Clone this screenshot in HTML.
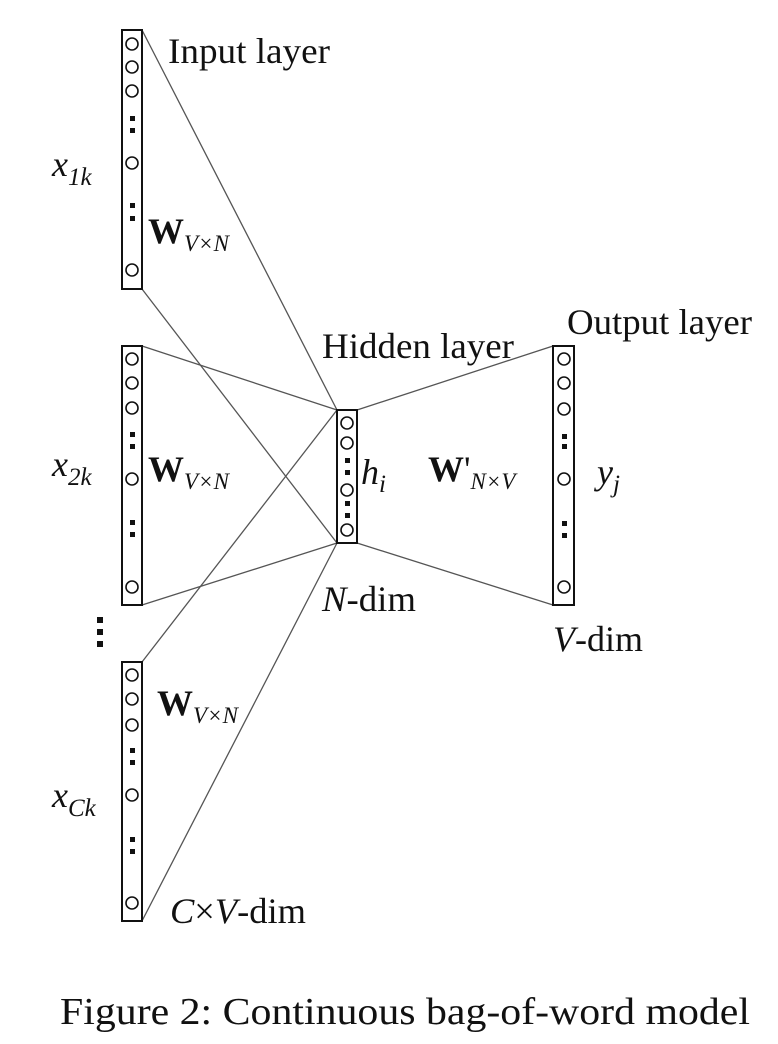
<!DOCTYPE html>
<html><head><meta charset="utf-8"><style>
html,body{margin:0;padding:0;background:#fff}
svg{display:block}
text{font-family:"Liberation Serif",serif;fill:#111}
</style></head><body>
<svg width="778" height="1044" viewBox="0 0 778 1044" xmlns="http://www.w3.org/2000/svg">
<g stroke="#555" stroke-width="1.3" fill="none">
<line x1="142" y1="30" x2="337" y2="410"/>
<line x1="142" y1="289" x2="337" y2="543"/>
<line x1="142" y1="346" x2="337" y2="410"/>
<line x1="142" y1="605" x2="337" y2="543"/>
<line x1="142" y1="662" x2="337" y2="410"/>
<line x1="142" y1="921" x2="337" y2="543"/>
<line x1="357" y1="410" x2="553" y2="346"/>
<line x1="357" y1="543" x2="553" y2="605"/>
</g>
<g stroke="#111" stroke-width="2" fill="#fff">
<rect x="122" y="30" width="20" height="259"/>
<rect x="122" y="346" width="20" height="259"/>
<rect x="122" y="662" width="20" height="259"/>
<rect x="337" y="410" width="20" height="133"/>
<rect x="553" y="346" width="21" height="259"/>
</g>
<g stroke="#111" stroke-width="1.6" fill="none">
<circle cx="132" cy="44" r="6"/><circle cx="132" cy="67" r="6"/><circle cx="132" cy="91" r="6"/><circle cx="132" cy="163" r="6"/><circle cx="132" cy="270" r="6"/>
<circle cx="132" cy="359" r="6"/><circle cx="132" cy="383" r="6"/><circle cx="132" cy="408" r="6"/><circle cx="132" cy="479" r="6"/><circle cx="132" cy="587" r="6"/>
<circle cx="132" cy="675" r="6"/><circle cx="132" cy="699" r="6"/><circle cx="132" cy="725" r="6"/><circle cx="132" cy="795" r="6"/><circle cx="132" cy="903" r="6"/>
<circle cx="347" cy="423" r="6"/><circle cx="347" cy="443" r="6"/><circle cx="347" cy="490" r="6"/><circle cx="347" cy="530" r="6"/>
<circle cx="564" cy="359" r="6"/><circle cx="564" cy="383" r="6"/><circle cx="564" cy="409" r="6"/><circle cx="564" cy="479" r="6"/><circle cx="564" cy="587" r="6"/>
</g>
<g fill="#111">
<rect x="130" y="116" width="5" height="5"/><rect x="130" y="128" width="5" height="5"/>
<rect x="130" y="203" width="5" height="5"/><rect x="130" y="216" width="5" height="5"/>
<rect x="130" y="432" width="5" height="5"/><rect x="130" y="444" width="5" height="5"/>
<rect x="130" y="520" width="5" height="5"/><rect x="130" y="532" width="5" height="5"/>
<rect x="130" y="748" width="5" height="5"/><rect x="130" y="760" width="5" height="5"/>
<rect x="130" y="837" width="5" height="5"/><rect x="130" y="849" width="5" height="5"/>
<rect x="345" y="458" width="5" height="5"/><rect x="345" y="470" width="5" height="5"/>
<rect x="345" y="501" width="5" height="5"/><rect x="345" y="513" width="5" height="5"/>
<rect x="562" y="434" width="5" height="5"/><rect x="562" y="444" width="5" height="5"/>
<rect x="562" y="521" width="5" height="5"/><rect x="562" y="533" width="5" height="5"/>
<rect x="97" y="617" width="6" height="6"/><rect x="97" y="629" width="6" height="6"/><rect x="97" y="641" width="6" height="6"/>
</g>
<g font-size="36">
<text x="168" y="63" textLength="162" lengthAdjust="spacingAndGlyphs">Input layer</text>
<text x="322" y="358" textLength="192" lengthAdjust="spacingAndGlyphs">Hidden layer</text>
<text x="567" y="334" textLength="185" lengthAdjust="spacingAndGlyphs">Output layer</text>
<text x="52" y="176" font-style="italic">x<tspan font-size="25" dy="9">1k</tspan></text>
<text x="52" y="476" font-style="italic">x<tspan font-size="25" dy="9">2k</tspan></text>
<text x="52" y="807" font-style="italic">x<tspan font-size="25" dy="9">Ck</tspan></text>
<text x="148" y="243" font-weight="bold">W<tspan font-size="23" font-style="italic" font-weight="normal" dy="8">V×N</tspan></text>
<text x="148" y="481" font-weight="bold">W<tspan font-size="23" font-style="italic" font-weight="normal" dy="8">V×N</tspan></text>
<text x="157" y="715" font-weight="bold">W<tspan font-size="23" font-style="italic" font-weight="normal" dy="8">V×N</tspan></text>
<text x="428" y="481" font-weight="bold">W<tspan font-weight="normal">'</tspan><tspan font-size="23" font-style="italic" font-weight="normal" dy="8">N×V</tspan></text>
<text x="361" y="484" font-style="italic">h<tspan font-size="25" dy="8">i</tspan></text>
<text x="597" y="484" font-style="italic">y<tspan font-size="25" dy="8">j</tspan></text>
<text x="322" y="611" textLength="94" lengthAdjust="spacingAndGlyphs"><tspan font-style="italic">N</tspan>-dim</text>
<text x="553" y="651" textLength="90" lengthAdjust="spacingAndGlyphs"><tspan font-style="italic">V</tspan>-dim</text>
<text x="170" y="923" textLength="136" lengthAdjust="spacingAndGlyphs"><tspan font-style="italic">C</tspan>×<tspan font-style="italic">V</tspan>-dim</text>
</g>
<text x="60" y="1024" font-size="38" textLength="690" lengthAdjust="spacingAndGlyphs">Figure 2: Continuous bag-of-word model</text>
</svg>
</body></html>
